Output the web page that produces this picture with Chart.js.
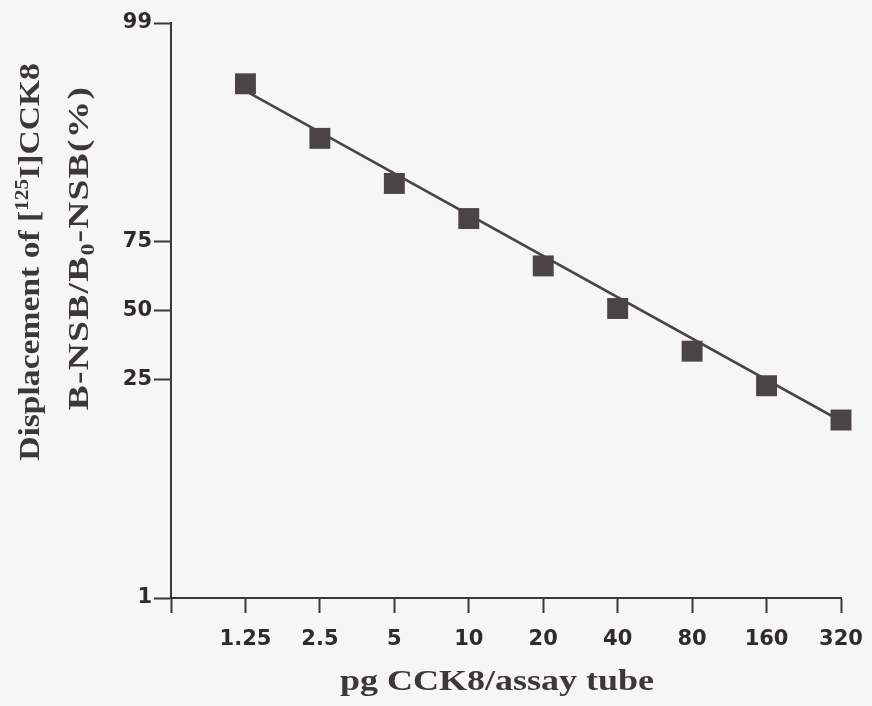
<!DOCTYPE html>
<html>
<head>
<meta charset="utf-8">
<script src="https://cdn.jsdelivr.net/npm/chart.js@4/dist/chart.umd.min.js"></script>
<style>
  html, body { margin: 0; padding: 0; background: #f6f6f4; }
  #wrap { width: 872px; height: 706px; }
</style>
</head>
<body>
<div id="wrap"><canvas id="myChart" width="872" height="706"></canvas></div>
<script>
'use strict';
// pg CCK8 per assay tube
let doses = [1.25, 2.5, 5, 10, 20, 40, 80, 160, 320];
// B-NSB/B0-NSB (%)
let displacement = [97.4, 94.0, 88.4, 81.3, 67.1, 50.8, 34.3, 23.1, 14.8];
// regression line ends
let fitDoses = [1.25, 320];
let fitValues = [97.1, 14.6];
let xTicks = [0.625, 1.25, 2.5, 5, 10, 20, 40, 80, 160, 320];
let yTicks = [1, 25, 50, 75, 99];

let ink = '#3d3838';
let markColor = '#4a4444';

function logit(p) {
  return Math.log(p / (100 - p));
}

// probability (logit) axis
class LogitScale extends Chart.LinearScale {
  determineDataLimits() {
    this.min = this.options.min;
    this.max = this.options.max;
  }
  buildTicks() {
    return yTicks.map(v => ({ value: v }));
  }
  configure() {
    super.configure();
    this._lo = logit(this.min);
    this._hi = logit(this.max);
  }
  getPixelForValue(value) {
    return this.getPixelForDecimal((logit(value) - this._lo) / (this._hi - this._lo));
  }
  getValueForPixel(pixel) {
    let l = this._lo + this.getDecimalForPixel(pixel) * (this._hi - this._lo);
    return 100 / (1 + Math.exp(-l));
  }
}
LogitScale.id = 'logit';
LogitScale.defaults = {};
Chart.register(LogitScale);

function drawPieces(ctx, pieces, cx, baseY) {
  let total = 0;
  for (let p of pieces) {
    ctx.font = p.font;
    total += ctx.measureText(p.text).width;
  }
  let x = cx - total / 2;
  for (let p of pieces) {
    ctx.font = p.font;
    ctx.fillText(p.text, x, baseY + (p.dy || 0));
    x += ctx.measureText(p.text).width;
  }
}

let titles = {
  id: 'titles',
  beforeDraw(chart) {
    let ctx = chart.ctx;
    ctx.save();
    ctx.fillStyle = '#f6f6f4';
    ctx.fillRect(0, 0, chart.width, chart.height);
    ctx.restore();
  },
  afterDraw(chart) {
    let ctx = chart.ctx;
    let big = 'bold 30px "Liberation Serif"';
    let small = 'bold 19px "Liberation Serif"';
    ctx.save();
    ctx.fillStyle = ink;
    ctx.textAlign = 'left';
    ctx.textBaseline = 'alphabetic';

    // x title
    ctx.save();
    ctx.translate(497, 690);
    ctx.scale(1.2, 1);
    drawPieces(ctx, [{ text: 'pg CCK8/assay tube', font: big }], 0, 0);
    ctx.restore();

    // y title, two lines
    ctx.save();
    ctx.translate(39, 262);
    ctx.rotate(-Math.PI / 2);
    ctx.scale(1.12, 1);
    drawPieces(ctx, [
      { text: 'Displacement of [', font: big },
      { text: '125', font: small, dy: -11 },
      { text: 'I]CCK8', font: big }
    ], 0, 0);
    ctx.restore();

    ctx.save();
    ctx.translate(88, 248);
    ctx.rotate(-Math.PI / 2);
    ctx.scale(1.25, 1);
    ctx.letterSpacing = '1px';
    drawPieces(ctx, [
      { text: 'B-NSB/B', font: big },
      { text: '0', font: small, dy: 6 },
      { text: '-NSB(%)', font: big }
    ], 0, 0);
    ctx.restore();

    ctx.restore();
  }
};

let tickFont = { family: 'DejaVu Sans', weight: 'bold', size: 21 };

let ctx = document.getElementById('myChart').getContext('2d');
let myChart = new Chart(ctx, {
  type: 'scatter',
  data: {
    datasets: [
      {
        label: 'displacement',
        data: doses.map((d, i) => ({ x: d, y: displacement[i] })),
        pointStyle: 'rect',
        pointRadius: 14.8,
        pointBackgroundColor: markColor,
        pointBorderColor: markColor,
        pointBorderWidth: 0,
        showLine: false,
        clip: false
      },
      {
        label: 'fit',
        data: fitDoses.map((d, i) => ({ x: d, y: fitValues[i] })),
        showLine: true,
        borderColor: markColor,
        borderWidth: 2.6,
        pointRadius: 0,
        fill: false
      }
    ]
  },
  options: {
    responsive: false,
    animation: false,
    layout: { padding: { top: 23, right: 31, left: 0, bottom: 0 } },
    plugins: { legend: { display: false }, tooltip: { enabled: false } },
    scales: {
      x: {
        type: 'logarithmic',
        position: 'bottom',
        min: 0.625,
        max: 320,
        bounds: 'data',
        afterBuildTicks: s => { s.ticks = xTicks.map(v => ({ value: v })); },
        afterFit: s => { s.height = 108; s.paddingRight = 0; },
        grid: { drawOnChartArea: false, drawTicks: true, tickLength: 15, tickWidth: 2, tickColor: ink },
        border: { display: true, color: ink, width: 2 },
        ticks: {
          autoSkip: false,
          maxRotation: 0,
          padding: 14,
          color: '#2f2b2b',
          font: tickFont,
          callback: v => (v === 0.625 ? '' : String(v))
        }
      },
      y: {
        type: 'logit',
        position: 'left',
        min: 1,
        max: 99,
        afterFit: s => { s.width = 171; },
        grid: { drawOnChartArea: false, drawTicks: true, tickLength: 17, tickWidth: 2, tickColor: ink },
        border: { display: true, color: ink, width: 2 },
        ticks: {
          padding: 2,
          color: '#2f2b2b',
          font: tickFont,
          callback: v => String(v)
        }
      }
    }
  },
  plugins: [titles]
});
</script>
</body>
</html>
